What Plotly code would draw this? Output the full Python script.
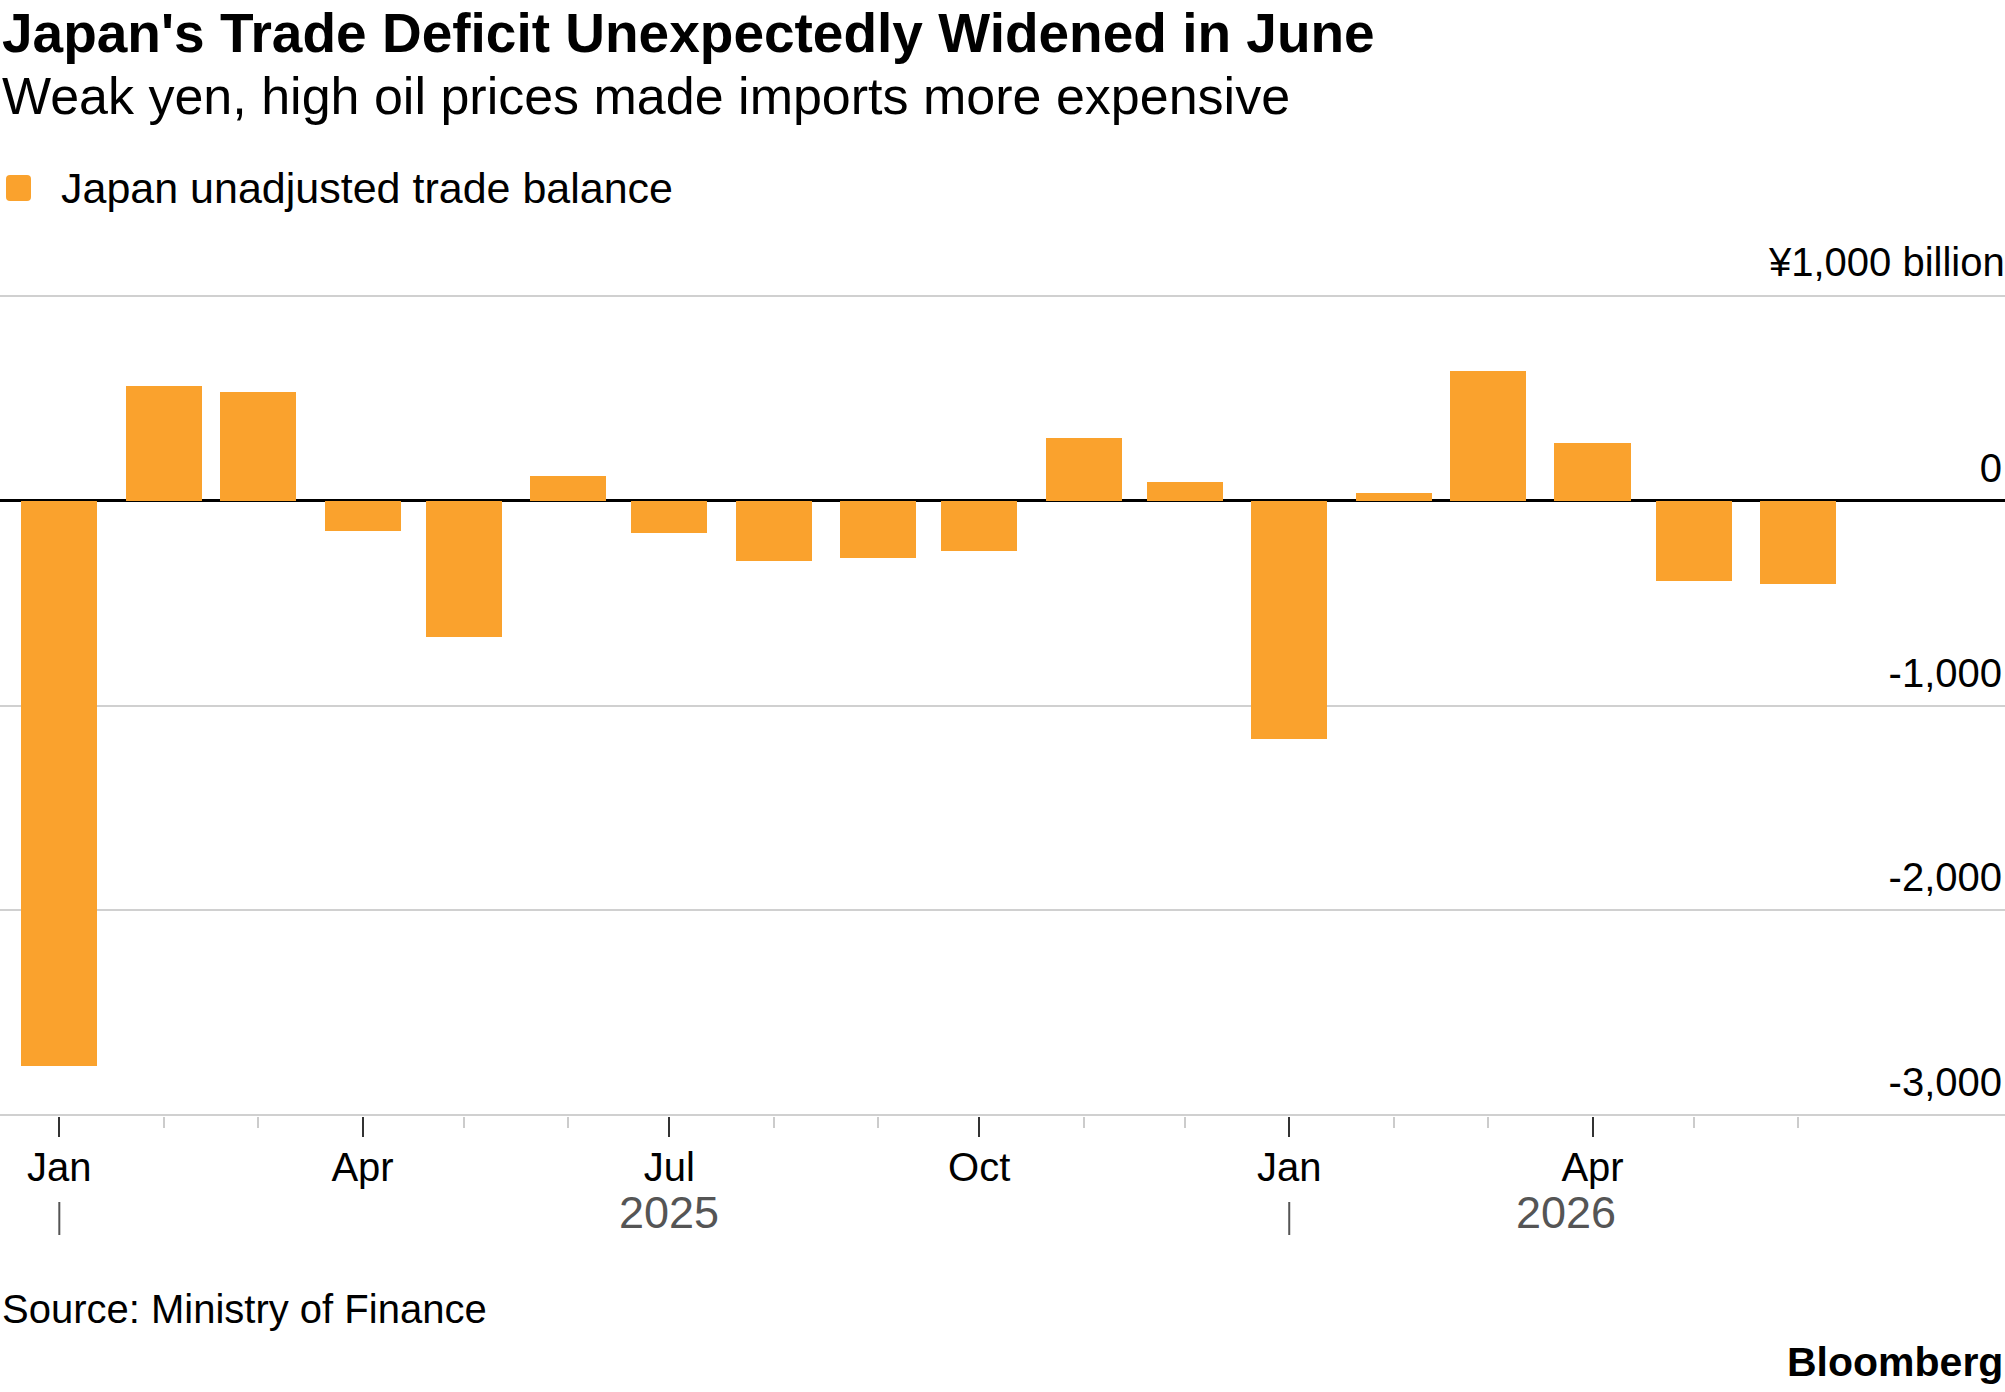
import plotly.graph_objects as go

# Japan unadjusted trade balance, billion yen
months = ["2025-01-01", "2025-02-01", "2025-03-01", "2025-04-01", "2025-05-01", "2025-06-01",
          "2025-07-01", "2025-08-01", "2025-09-01", "2025-10-01", "2025-11-01", "2025-12-01",
          "2026-01-01", "2026-02-01", "2026-03-01", "2026-04-01", "2026-05-01", "2026-06-01"]
balance = [-2759, 559, 529, -150, -663, 121,
           -156, -295, -278, -244, 305, 93,
           -1164, 36, 632, 282, -391, -406]

y_ticks = [1000, 0, -1000, -2000, -3000]
y_labels = ["", "0", "-1,000", "-2,000", "-3,000"]
y_unit = "¥1,000 billion"

years = ["2025", "2026"]
year_pos = ["2025-07-01", "2026-03-24"]
year_starts = ["2025-01-01", "2026-01-01"]

W, H = 2005, 1392
T, B = 295, 276
PH = H - T - B
FONT = "Liberation Sans"
ORANGE = "#FAA22D"


def py(y):
    # pixel row -> paper y
    return (H - B - y) / PH


fig = go.Figure()
fig.add_trace(go.Bar(x=months, y=balance, marker_color=ORANGE, marker_line_width=0,
                     width=22.6 * 86400000, name="Japan unadjusted trade balance",
                     showlegend=False))

fig.update_layout(
    width=W, height=H,
    margin=dict(l=0, r=0, t=T, b=B, pad=0),
    paper_bgcolor="white", plot_bgcolor="white",
    font=dict(family=FONT, color="black", size=40),
    bargap=0,
)

fig.update_xaxes(
    type="date", range=["2024-12-14 09:36", "2026-08-01 10:00"],
    tick0="2025-01-01", dtick="M3", tickformat="%b",
    ticks="outside", ticklen=20, tickwidth=2, tickcolor="#333333",
    tickfont=dict(size=40, color="black"), ticklabelstandoff=-4,
    minor=dict(dtick="M1", ticks="outside", ticklen=11, tickwidth=2, tickcolor="#cccccc"),
    showgrid=False, showline=False,
    zeroline=False,
)

fig.update_yaxes(
    range=[-3005, 1005], side="right",
    tickvals=y_ticks, ticktext=y_labels, ticks="",
    ticklabelposition="inside", ticklabelshift=-33,
    tickfont=dict(size=40, color="black"),
    showgrid=True, gridcolor="#d0d0d0", gridwidth=2,
    zeroline=True, zerolinecolor="black", zerolinewidth=2.5,
    showline=False,
)

# unit label above the top gridline
fig.add_annotation(text=y_unit, x=1, y=y_ticks[0], xref="paper", yref="y",
                   xanchor="right", yanchor="middle", yshift=34, xshift=2, showarrow=False,
                   font=dict(size=40, family=FONT))

# titles and notes
fig.add_annotation(text="<b>Japan's Trade Deficit Unexpectedly Widened in June</b>",
                   x=0, y=py(33), xref="paper", yref="paper", xanchor="left", yanchor="middle",
                   showarrow=False, font=dict(size=55, family=FONT))
fig.add_annotation(text="Weak yen, high oil prices made imports more expensive",
                   x=0, y=py(96), xref="paper", yref="paper", xanchor="left", yanchor="middle",
                   showarrow=False, font=dict(size=52, family=FONT))
fig.add_annotation(text="Japan unadjusted trade balance",
                   x=59 / W, y=py(188), xref="paper", yref="paper", xanchor="left", yanchor="middle",
                   showarrow=False, font=dict(size=43, family=FONT))
fig.add_annotation(text="Source: Ministry of Finance",
                   x=0, y=py(1309), xref="paper", yref="paper", xanchor="left", yanchor="middle",
                   showarrow=False, font=dict(size=40, family=FONT))
fig.add_annotation(text="<b>Bloomberg</b>",
                   x=1, y=py(1362), xref="paper", yref="paper", xanchor="right", yanchor="middle",
                   showarrow=False, font=dict(size=41, family=FONT))

# legend swatch (rounded square)
x0, x1 = 6 / W, 31 / W
y0, y1 = py(201), py(175)
rx, ry = 4 / W, 4 / PH
fig.add_shape(type="path", xref="paper", yref="paper", fillcolor=ORANGE, line_width=0,
              path=(f"M {x0+rx} {y0} L {x1-rx} {y0} Q {x1} {y0} {x1} {y0+ry} "
                    f"L {x1} {y1-ry} Q {x1} {y1} {x1-rx} {y1} L {x0+rx} {y1} "
                    f"Q {x0} {y1} {x0} {y1-ry} L {x0} {y0+ry} Q {x0} {y0} {x0+rx} {y0} Z"))

# year labels and separators
for yr, pos in zip(years, year_pos):
    fig.add_annotation(text=yr, x=pos, y=py(1212), xref="x", yref="paper",
                       xanchor="center", yanchor="middle", showarrow=False,
                       font=dict(size=45, color="#555555", family=FONT))
for s in year_starts:
    fig.add_shape(type="line", x0=s, x1=s, y0=py(1202), y1=py(1235), xref="x", yref="paper",
                  line=dict(color="#555555", width=2))

fig.write_html("out.html", config={"displayModeBar": False},
               post_script="document.body.style.margin='0';")
